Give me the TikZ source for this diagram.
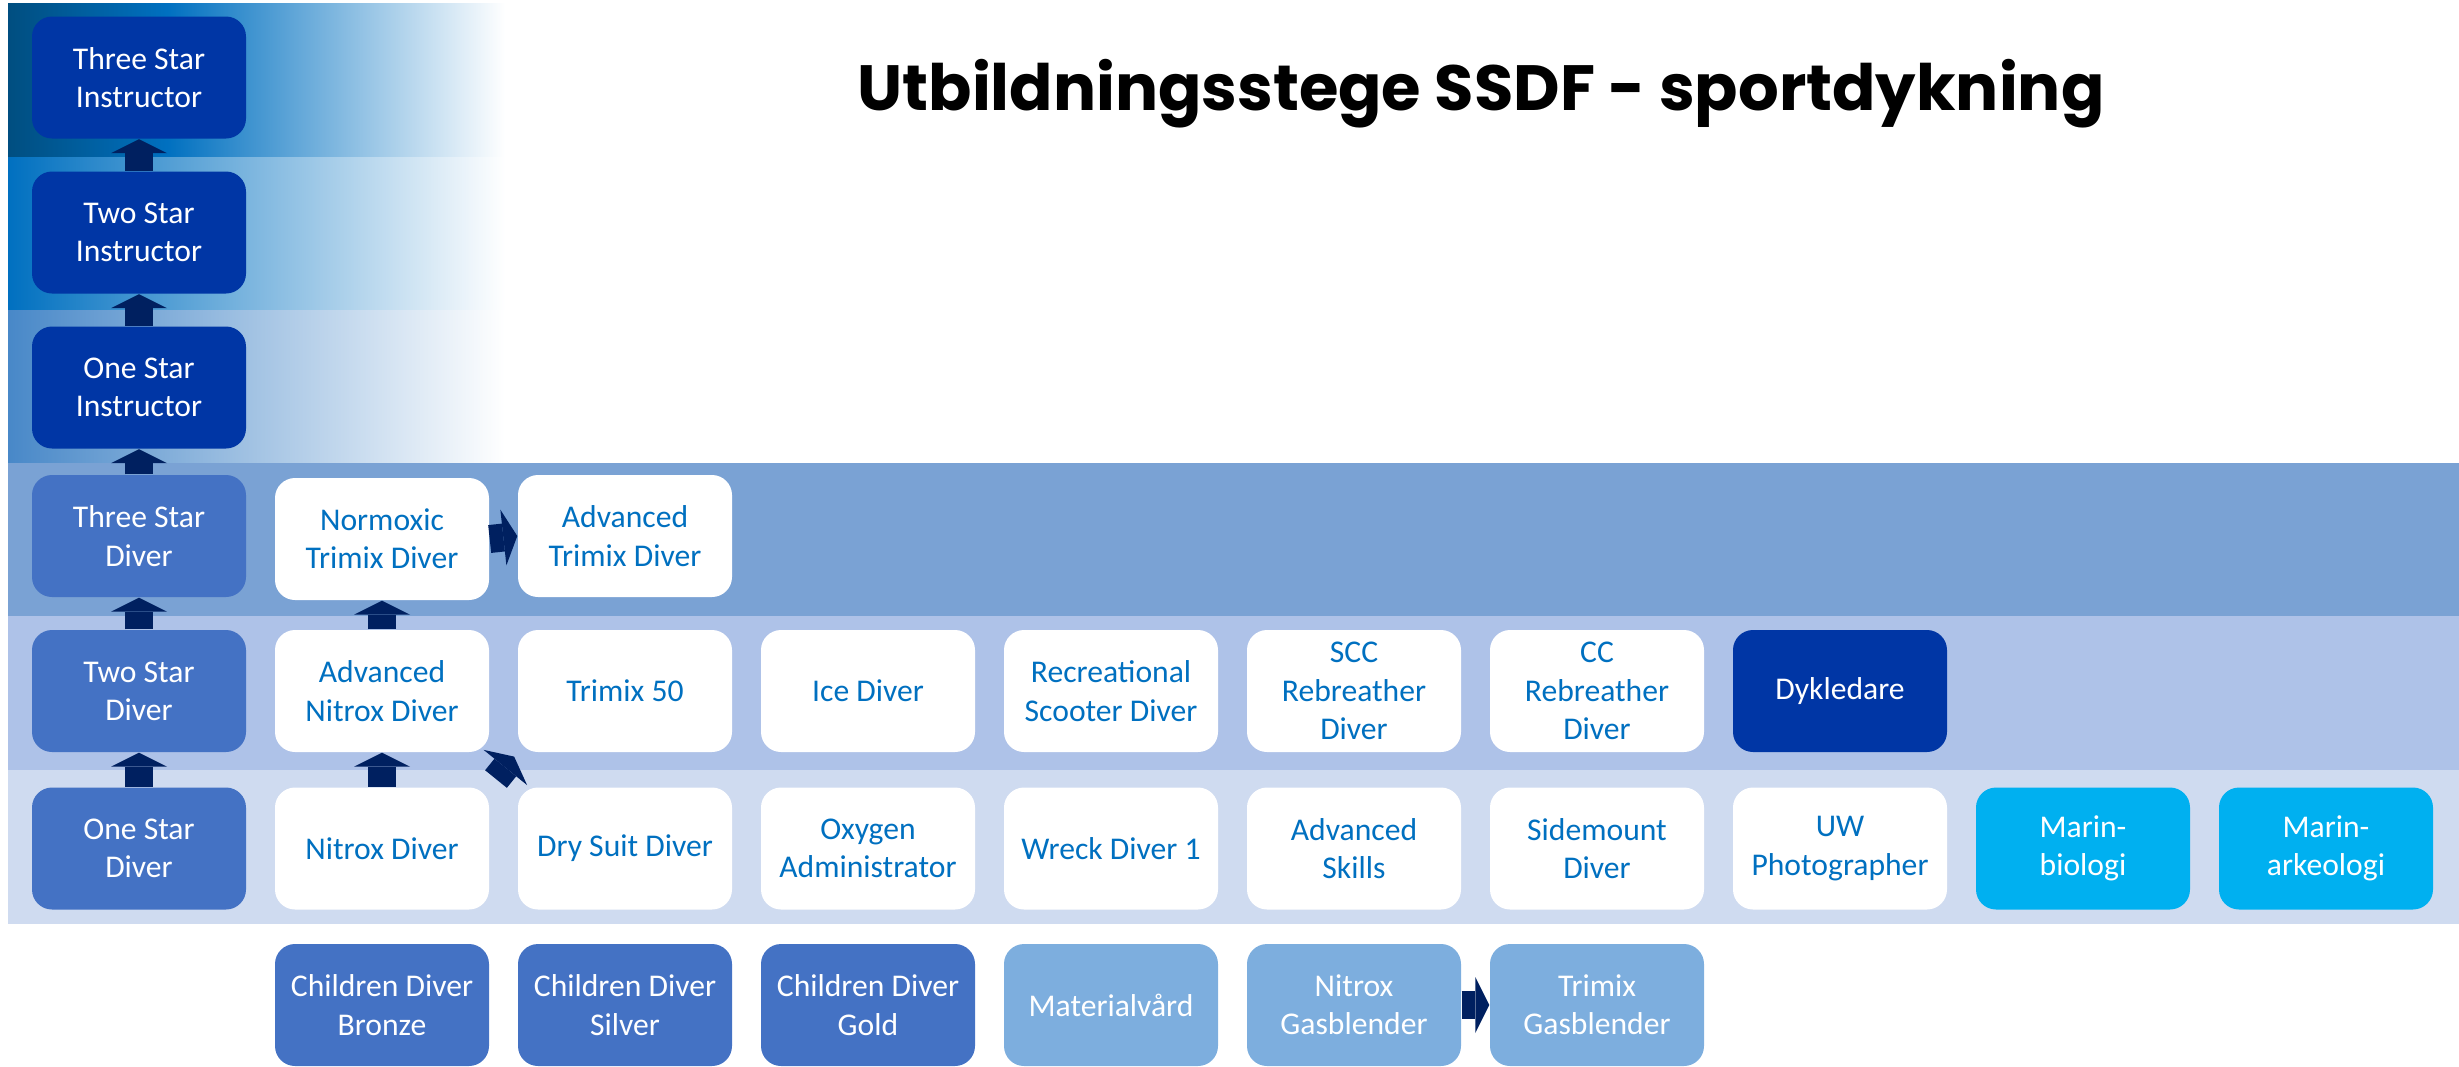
\documentclass[tikz,border=0pt]{standalone}
\usepackage{fontspec}
\setmainfont{Carlito}
\newfontfamily\titlefont{Poppins}
\usetikzlibrary{arrows.meta,calc}
\definecolor{navy}{HTML}{002060}
\definecolor{instr}{HTML}{0036A5}
\definecolor{diver}{HTML}{4472C4}
\definecolor{txtblue}{HTML}{0070C0}
\definecolor{marin}{HTML}{00B0F0}
\definecolor{gas}{HTML}{7DAEDE}
\definecolor{bandA}{RGB}{122,162,212}
\definecolor{bandB}{RGB}{174,194,232}
\definecolor{bandC}{RGB}{207,219,240}
\definecolor{teal}{RGB}{0,78,128}
\definecolor{midC}{RGB}{72,136,200}
\pgfdeclarehorizontalshading{topA}{100bp}{color(0bp)=(teal); color(25bp)=(teal); color(41bp)=(txtblue); color(75bp)=(white); color(100bp)=(white)}
\pgfdeclarehorizontalshading{topB}{100bp}{color(0bp)=(txtblue); color(25bp)=(txtblue); color(75bp)=(white); color(100bp)=(white)}
\pgfdeclarehorizontalshading{topC}{100bp}{color(0bp)=(midC); color(25bp)=(midC); color(75bp)=(white); color(100bp)=(white)}
\tikzset{
  box/.style={rounded corners=2mm, minimum width=21.4mm, minimum height=12.2mm,
    inner sep=0pt, align=center, font=\fontsize{9}{10.9}\selectfont},
  instbox/.style={box, fill=instr, text=white},
  divbox/.style={box, fill=diver, text=white},
  wbox/.style={box, fill=white, text=txtblue},
  mbox/.style={box, fill=marin, text=white},
  gbox/.style={box, fill=gas, text=white},
  upar/.style={draw=navy, line width=2.8mm,
    -{Triangle[width=5.6mm,length=1.4mm,line width=0pt]}},
}
\begin{document}
\begin{tikzpicture}[x=0.1mm,y=-0.1mm]
\useasboundingbox (0,0) rectangle (2459,1066);
% background bands
\shade[shading=topA] (8,3) rectangle (505,157);
\shade[shading=topB] (8,157) rectangle (505,310);
\shade[shading=topC] (8,310) rectangle (505,463);
\fill[bandA] (8,463) rectangle (2459,616);
\fill[bandB] (8,616) rectangle (2459,770);
\fill[bandC] (8,770) rectangle (2459,924);
% title
\node[anchor=base, font=\titlefont\bfseries\fontsize{18.2}{22}\selectfont] (title) at (1481,110) {Utbildningsstege SSDF - sportdykning};
% left column
\node[instbox] (i3) at (139,77.5) {Three Star\\Instructor};
\node[instbox] (i2) at (139,232.5) {Two Star\\Instructor};
\node[instbox] (i1) at (139,387.5) {One Star\\Instructor};
\node[divbox] (d3) at (139,536) {Three Star\\Diver};
\node[divbox] (d2) at (139,691) {Two Star\\Diver};
\node[divbox] (d1) at (139,848.5) {One Star\\Diver};
% three star row
\node[wbox] (ntd) at (382,539) {Normoxic\\Trimix Diver};
\node[wbox] (atd) at (625,536) {Advanced\\Trimix Diver};
% two star row
\node[wbox] (and) at (382,691) {Advanced\\Nitrox Diver};
\node[wbox] (t50) at (625,691) {Trimix 50};
\node[wbox] (ice) at (868,691) {Ice Diver};
\node[wbox] (rsd) at (1111,691) {Recreational\\Scooter Diver};
\node[wbox] (scc) at (1354,691) {SCC\\Rebreather\\Diver};
\node[wbox] (cc) at (1597,691) {CC\\Rebreather\\Diver};
\node[instbox] (dyk) at (1840,691) {Dykledare};
% one star row
\node[wbox] (nd) at (382,848.5) {Nitrox Diver};
\node[wbox] (dsd) at (625,848.5) {Dry Suit Diver};
\node[wbox] (oa) at (868,848.5) {Oxygen\\Administrator};
\node[wbox] (wd) at (1111,848.5) {Wreck Diver 1};
\node[wbox] (as) at (1354,848.5) {Advanced\\Skills};
\node[wbox] (sm) at (1597,848.5) {Sidemount\\Diver};
\node[wbox] (uw) at (1840,848.5) {UW\\Photographer};
\node[mbox] (mb) at (2083,848.5) {Marin-\\biologi};
\node[mbox] (ma) at (2326,848.5) {Marin-\\arkeologi};
% bottom row
\node[divbox] (cb) at (382,1005) {Children Diver\\Bronze};
\node[divbox] (cs) at (625,1005) {Children Diver\\Silver};
\node[divbox] (cg) at (868,1005) {Children Diver\\Gold};
\node[gbox] (mv) at (1111,1005) {Materialvård};
\node[gbox] (ng) at (1354,1005) {Nitrox\\Gasblender};
\node[gbox] (tg) at (1597,1005) {Trimix\\Gasblender};
% arrows
\draw[upar] (i2.north) -- (i3.south);
\draw[upar] (i1.north) -- (i2.south);
\draw[upar] (d3.north) -- (i1.south);
\draw[upar] (d2.north) -- (d3.south);
\draw[upar] (d1.north) -- (d2.south);
\draw[upar] (and.north) -- (ntd.south);
\draw[upar] (nd.north) -- (and.south);
\draw[upar] (ntd.east) -- (atd.west);
\draw[upar] (ng.east) -- (tg.west);
\draw[upar, shorten <=1mm, shorten >=0.5mm] (nd.north east) -- (t50.south west);
\end{tikzpicture}
\end{document}
